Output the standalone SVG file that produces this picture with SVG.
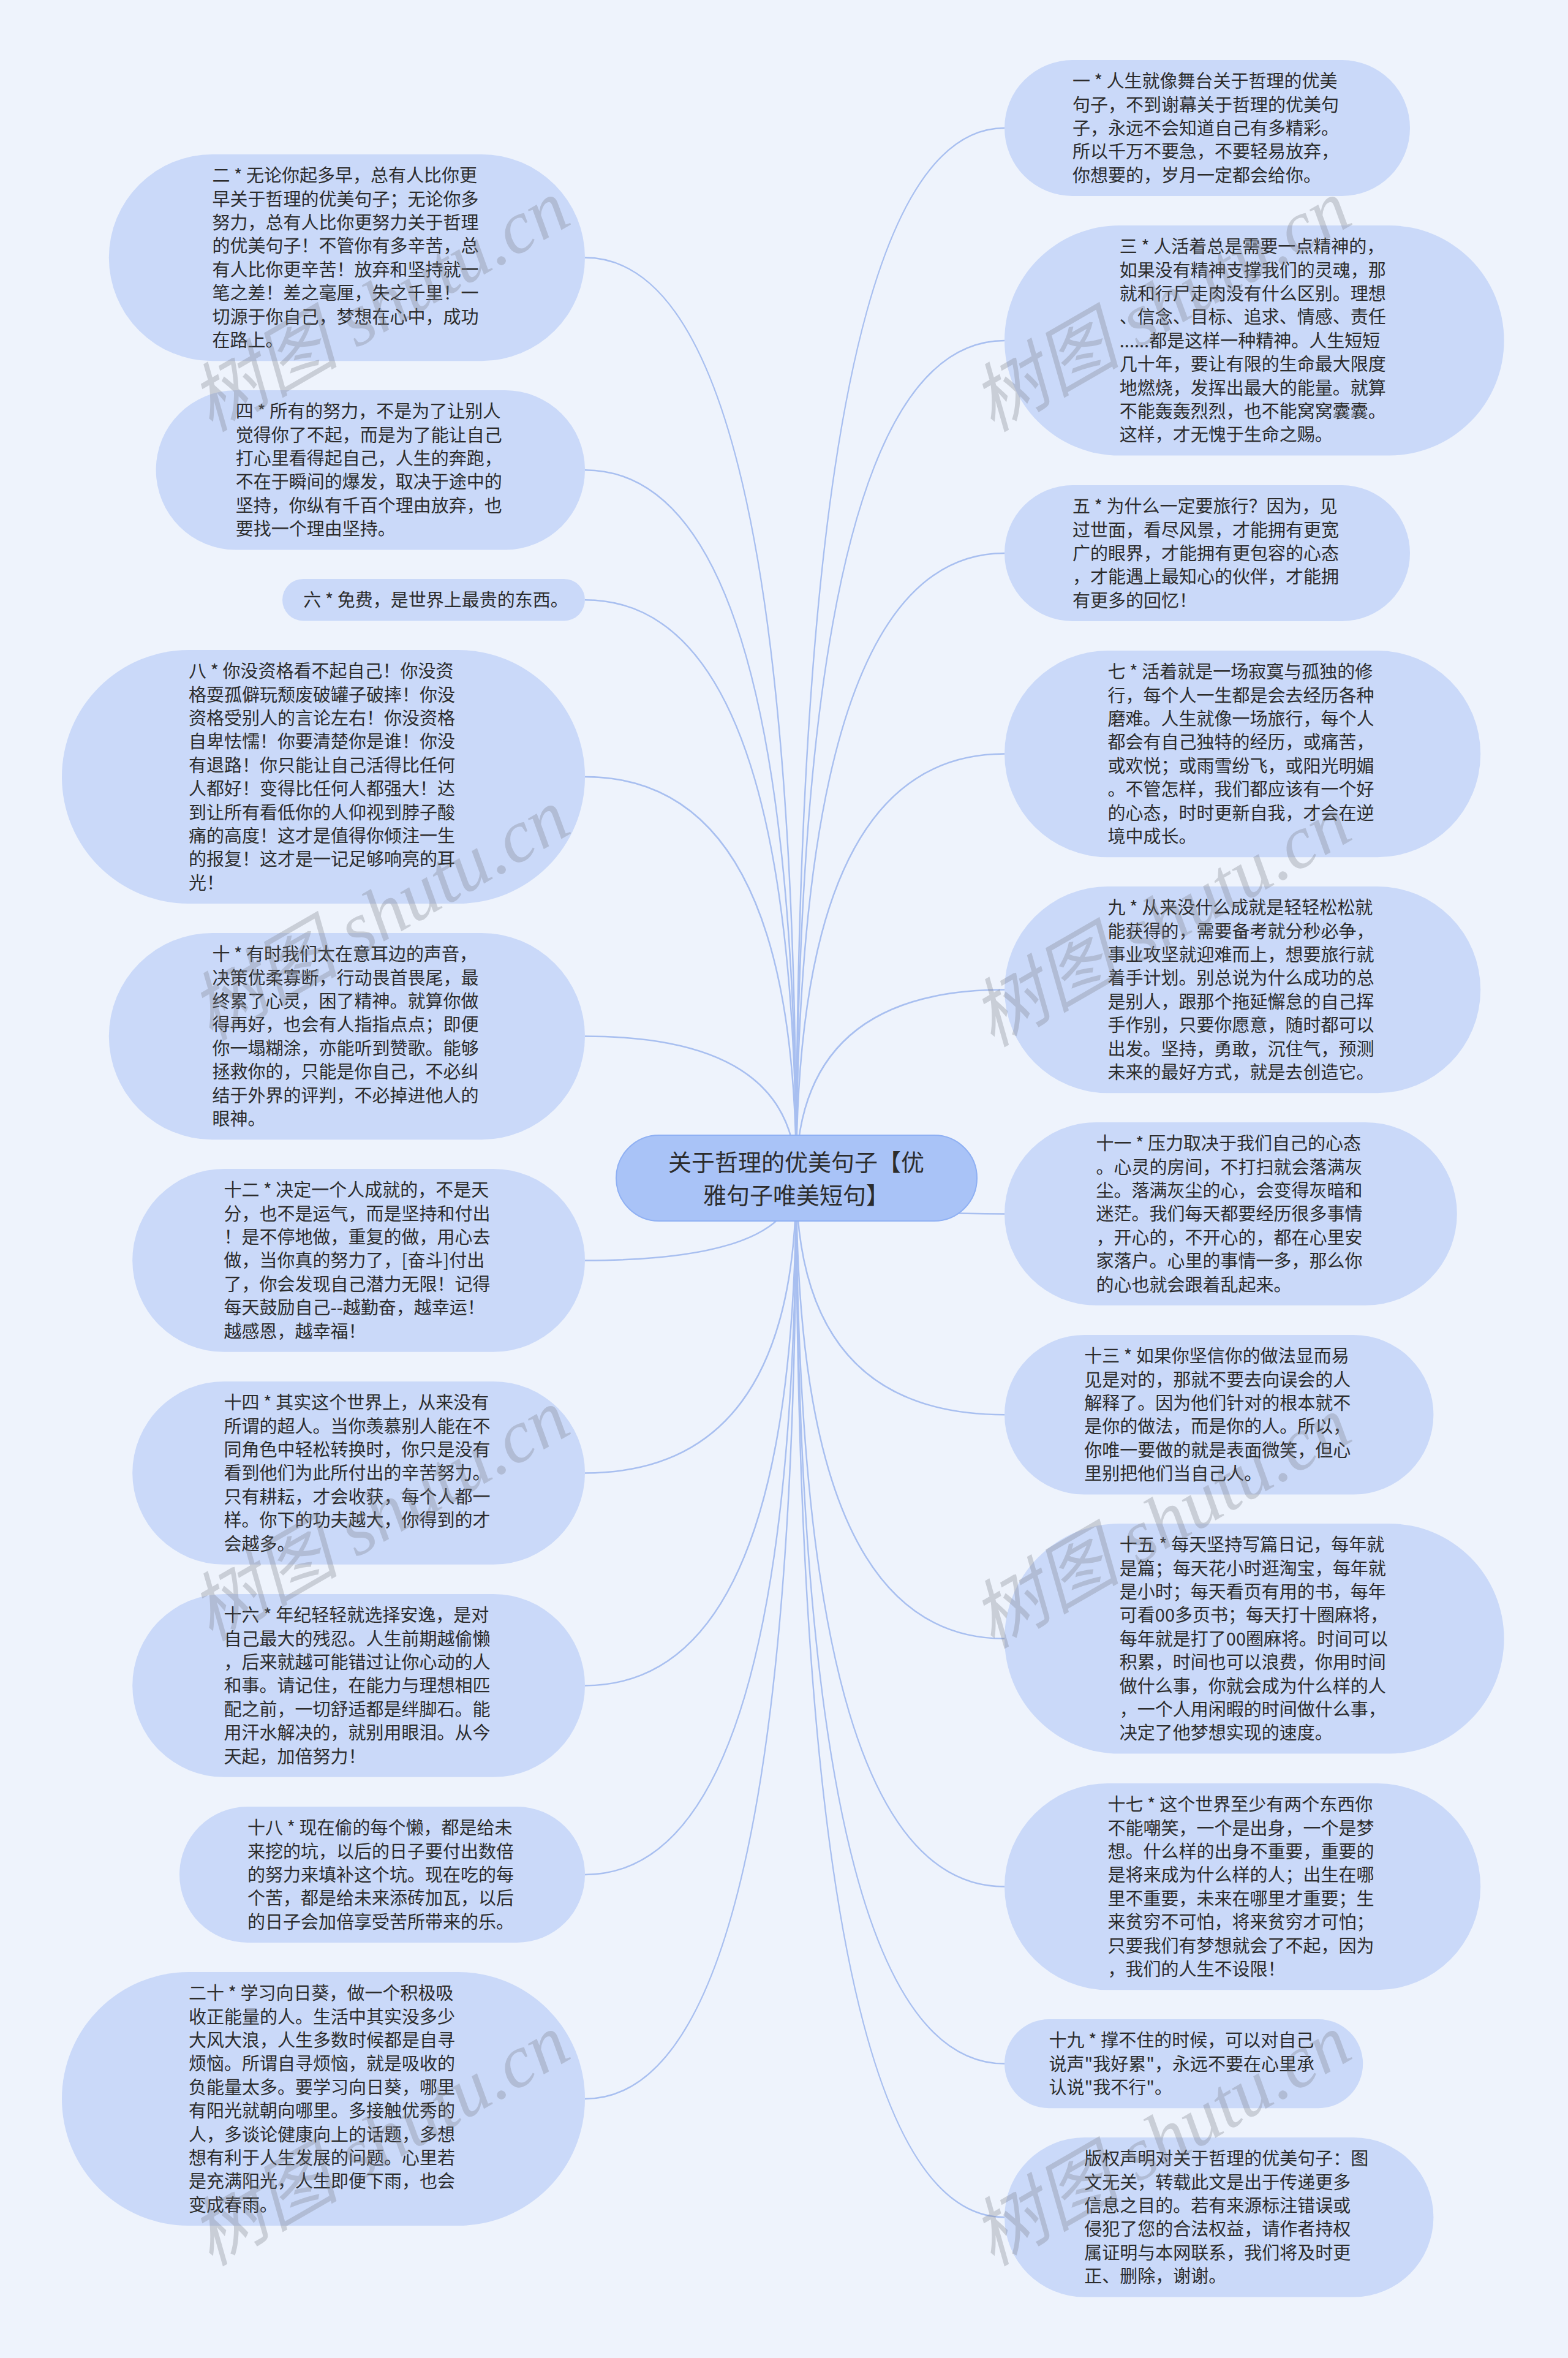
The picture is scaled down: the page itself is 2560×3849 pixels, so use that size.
<svg xmlns="http://www.w3.org/2000/svg" width="2560" height="3849" viewBox="0 0 2560 3849">
<style>
.bg{fill:#eef3fc}
.node{fill:#cad9f9}
.root{fill:#a9c3f7;stroke:#8fb0f3;stroke-width:2}
.t{font-family:"Noto Sans CJK SC","Noto Sans",sans-serif;font-size:29px;fill:#2c2c2c}
.rt{font-family:"Noto Sans CJK SC","Noto Sans",sans-serif;font-size:38px;fill:#2c2c2c;text-anchor:middle}
.link{fill:none;stroke:#a8bff0;stroke-width:2.5}
.wm{font-family:"Liberation Serif","Noto Sans CJK SC",serif;font-style:italic;font-size:122px;fill:#7d8088;fill-opacity:0.32}
</style>
<rect class="bg" x="0" y="0" width="2560" height="3849"/>
<g id="connectors">
<path class="link" d="M1300 1923 Q1300 209 1640 209"/>
<path class="link" d="M1300 1923 Q1300 556 1640 556"/>
<path class="link" d="M1300 1923 Q1300 903 1640 903"/>
<path class="link" d="M1300 1923 Q1300 1230.6 1640 1230.6"/>
<path class="link" d="M1300 1923 Q1300 1615.6 1640 1615.6"/>
<path class="link" d="M1300 1923 Q1300 1981.4 1640 1981.4"/>
<path class="link" d="M1300 1923 Q1300 2309.2 1640 2309.2"/>
<path class="link" d="M1300 1923 Q1300 2674.8 1640 2674.8"/>
<path class="link" d="M1300 1923 Q1300 3079.6 1640 3079.6"/>
<path class="link" d="M1300 1923 Q1300 3368.6 1640 3368.6"/>
<path class="link" d="M1300 1923 Q1300 3619.2 1640 3619.2"/>
<path class="link" d="M1300 1923 Q1300 420.6 955 420.6"/>
<path class="link" d="M1300 1923 Q1300 767.2 955 767.2"/>
<path class="link" d="M1300 1923 Q1300 979.2 955 979.2"/>
<path class="link" d="M1300 1923 Q1300 1268 955 1268"/>
<path class="link" d="M1300 1923 Q1300 1691.6 955 1691.6"/>
<path class="link" d="M1300 1923 Q1300 2057.4 955 2057.4"/>
<path class="link" d="M1300 1923 Q1300 2404.4 955 2404.4"/>
<path class="link" d="M1300 1923 Q1300 2751.4 955 2751.4"/>
<path class="link" d="M1300 1923 Q1300 3060 955 3060"/>
<path class="link" d="M1300 1923 Q1300 3426 955 3426"/>
</g>
<g id="root">
<rect class="root" x="1006" y="1853" width="589" height="140" rx="70"/>
<text class="rt"><tspan x="1300" y="1911">关于哲理的优美句子【优</tspan><tspan x="1300" y="1965">雅句子唯美短句】</tspan></text>
</g>
<g id="n1">
<rect class="node" x="1640" y="98" width="662" height="222" rx="111"/>
<text class="t"><tspan x="1751" y="143.2">一 * 人生就像舞台关于哲理的优美</tspan><tspan x="1751" y="181.6">句子，不到谢幕关于哲理的优美句</tspan><tspan x="1751" y="220">子，永远不会知道自己有多精彩。</tspan><tspan x="1751" y="258.4">所以千万不要急，不要轻易放弃，</tspan><tspan x="1751" y="296.8">你想要的，岁月一定都会给你。</tspan></text>
</g>
<g id="n3">
<rect class="node" x="1640" y="368" width="815.6" height="375.6" rx="187.8"/>
<text class="t"><tspan x="1827.8" y="413.2">三 * 人活着总是需要一点精神的，</tspan><tspan x="1827.8" y="451.6">如果没有精神支撑我们的灵魂，那</tspan><tspan x="1827.8" y="490">就和行尸走肉没有什么区别。理想</tspan><tspan x="1827.8" y="528.4">、信念、目标、追求、情感、责任</tspan><tspan x="1827.8" y="566.8">......都是这样一种精神。人生短短</tspan><tspan x="1827.8" y="605.2">几十年，要让有限的生命最大限度</tspan><tspan x="1827.8" y="643.6">地燃烧，发挥出最大的能量。就算</tspan><tspan x="1827.8" y="682">不能轰轰烈烈，也不能窝窝囊囊。</tspan><tspan x="1827.8" y="720.4">这样，才无愧于生命之赐。</tspan></text>
</g>
<g id="n5">
<rect class="node" x="1640" y="792" width="662" height="222" rx="111"/>
<text class="t"><tspan x="1751" y="837.2">五 * 为什么一定要旅行？因为，见</tspan><tspan x="1751" y="875.6">过世面，看尽风景，才能拥有更宽</tspan><tspan x="1751" y="914">广的眼界，才能拥有更包容的心态</tspan><tspan x="1751" y="952.4">，才能遇上最知心的伙伴，才能拥</tspan><tspan x="1751" y="990.8">有更多的回忆！</tspan></text>
</g>
<g id="n7">
<rect class="node" x="1640" y="1062" width="777.2" height="337.2" rx="168.6"/>
<text class="t"><tspan x="1808.6" y="1107.2">七 * 活着就是一场寂寞与孤独的修</tspan><tspan x="1808.6" y="1145.6">行，每个人一生都是会去经历各种</tspan><tspan x="1808.6" y="1184">磨难。人生就像一场旅行，每个人</tspan><tspan x="1808.6" y="1222.4">都会有自己独特的经历，或痛苦，</tspan><tspan x="1808.6" y="1260.8">或欢悦；或雨雪纷飞，或阳光明媚</tspan><tspan x="1808.6" y="1299.2">。不管怎样，我们都应该有一个好</tspan><tspan x="1808.6" y="1337.6">的心态，时时更新自我，才会在逆</tspan><tspan x="1808.6" y="1376">境中成长。</tspan></text>
</g>
<g id="n9">
<rect class="node" x="1640" y="1447" width="777.2" height="337.2" rx="168.6"/>
<text class="t"><tspan x="1808.6" y="1492.2">九 * 从来没什么成就是轻轻松松就</tspan><tspan x="1808.6" y="1530.6">能获得的，需要备考就分秒必争，</tspan><tspan x="1808.6" y="1569">事业攻坚就迎难而上，想要旅行就</tspan><tspan x="1808.6" y="1607.4">着手计划。别总说为什么成功的总</tspan><tspan x="1808.6" y="1645.8">是别人，跟那个拖延懈怠的自己挥</tspan><tspan x="1808.6" y="1684.2">手作别，只要你愿意，随时都可以</tspan><tspan x="1808.6" y="1722.6">出发。坚持，勇敢，沉住气，预测</tspan><tspan x="1808.6" y="1761">未来的最好方式，就是去创造它。</tspan></text>
</g>
<g id="n11">
<rect class="node" x="1640" y="1832" width="738.8" height="298.8" rx="149.4"/>
<text class="t"><tspan x="1789.4" y="1877.2">十一 * 压力取决于我们自己的心态</tspan><tspan x="1789.4" y="1915.6">。心灵的房间，不打扫就会落满灰</tspan><tspan x="1789.4" y="1954">尘。落满灰尘的心，会变得灰暗和</tspan><tspan x="1789.4" y="1992.4">迷茫。我们每天都要经历很多事情</tspan><tspan x="1789.4" y="2030.8">，开心的，不开心的，都在心里安</tspan><tspan x="1789.4" y="2069.2">家落户。心里的事情一多，那么你</tspan><tspan x="1789.4" y="2107.6">的心也就会跟着乱起来。</tspan></text>
</g>
<g id="n13">
<rect class="node" x="1640" y="2179" width="700.4" height="260.4" rx="130.2"/>
<text class="t"><tspan x="1770.2" y="2224.2">十三 * 如果你坚信你的做法显而易</tspan><tspan x="1770.2" y="2262.6">见是对的，那就不要去向误会的人</tspan><tspan x="1770.2" y="2301">解释了。因为他们针对的根本就不</tspan><tspan x="1770.2" y="2339.4">是你的做法，而是你的人。所以，</tspan><tspan x="1770.2" y="2377.8">你唯一要做的就是表面微笑，但心</tspan><tspan x="1770.2" y="2416.2">里别把他们当自己人。</tspan></text>
</g>
<g id="n15">
<rect class="node" x="1640" y="2487" width="815.6" height="375.6" rx="187.8"/>
<text class="t"><tspan x="1827.8" y="2532.2">十五 * 每天坚持写篇日记，每年就</tspan><tspan x="1827.8" y="2570.6">是篇；每天花小时逛淘宝，每年就</tspan><tspan x="1827.8" y="2609">是小时；每天看页有用的书，每年</tspan><tspan x="1827.8" y="2647.4">可看00多页书；每天打十圈麻将，</tspan><tspan x="1827.8" y="2685.8">每年就是打了00圈麻将。时间可以</tspan><tspan x="1827.8" y="2724.2">积累，时间也可以浪费，你用时间</tspan><tspan x="1827.8" y="2762.6">做什么事，你就会成为什么样的人</tspan><tspan x="1827.8" y="2801">，一个人用闲暇的时间做什么事，</tspan><tspan x="1827.8" y="2839.4">决定了他梦想实现的速度。</tspan></text>
</g>
<g id="n17">
<rect class="node" x="1640" y="2911" width="777.2" height="337.2" rx="168.6"/>
<text class="t"><tspan x="1808.6" y="2956.2">十七 * 这个世界至少有两个东西你</tspan><tspan x="1808.6" y="2994.6">不能嘲笑，一个是出身，一个是梦</tspan><tspan x="1808.6" y="3033">想。什么样的出身不重要，重要的</tspan><tspan x="1808.6" y="3071.4">是将来成为什么样的人；出生在哪</tspan><tspan x="1808.6" y="3109.8">里不重要，未来在哪里才重要；生</tspan><tspan x="1808.6" y="3148.2">来贫穷不可怕，将来贫穷才可怕；</tspan><tspan x="1808.6" y="3186.6">只要我们有梦想就会了不起，因为</tspan><tspan x="1808.6" y="3225">，我们的人生不设限！</tspan></text>
</g>
<g id="n19">
<rect class="node" x="1640" y="3296" width="585.2" height="145.2" rx="72.6"/>
<text class="t"><tspan x="1712.6" y="3341.2">十九 * 撑不住的时候，可以对自己</tspan><tspan x="1712.6" y="3379.6">说声"我好累"，永远不要在心里承</tspan><tspan x="1712.6" y="3418">认说"我不行"。</tspan></text>
</g>
<g id="n21">
<rect class="node" x="1640" y="3489" width="700.4" height="260.4" rx="130.2"/>
<text class="t"><tspan x="1770.2" y="3534.2">版权声明对关于哲理的优美句子：图</tspan><tspan x="1770.2" y="3572.6">文无关，转载此文是出于传递更多</tspan><tspan x="1770.2" y="3611">信息之目的。若有来源标注错误或</tspan><tspan x="1770.2" y="3649.4">侵犯了您的合法权益，请作者持权</tspan><tspan x="1770.2" y="3687.8">属证明与本网联系，我们将及时更</tspan><tspan x="1770.2" y="3726.2">正、删除，谢谢。</tspan></text>
</g>
<g id="n2">
<rect class="node" x="177.8" y="252" width="777.2" height="337.2" rx="168.6"/>
<text class="t"><tspan x="346.4" y="297.2">二 * 无论你起多早，总有人比你更</tspan><tspan x="346.4" y="335.6">早关于哲理的优美句子；无论你多</tspan><tspan x="346.4" y="374">努力，总有人比你更努力关于哲理</tspan><tspan x="346.4" y="412.4">的优美句子！不管你有多辛苦，总</tspan><tspan x="346.4" y="450.8">有人比你更辛苦！放弃和坚持就一</tspan><tspan x="346.4" y="489.2">笔之差！差之毫厘，失之千里！一</tspan><tspan x="346.4" y="527.6">切源于你自己，梦想在心中，成功</tspan><tspan x="346.4" y="566">在路上。</tspan></text>
</g>
<g id="n4">
<rect class="node" x="254.6" y="637" width="700.4" height="260.4" rx="130.2"/>
<text class="t"><tspan x="384.8" y="682.2">四 * 所有的努力，不是为了让别人</tspan><tspan x="384.8" y="720.6">觉得你了不起，而是为了能让自己</tspan><tspan x="384.8" y="759">打心里看得起自己，人生的奔跑，</tspan><tspan x="384.8" y="797.4">不在于瞬间的爆发，取决于途中的</tspan><tspan x="384.8" y="835.8">坚持，你纵有千百个理由放弃，也</tspan><tspan x="384.8" y="874.2">要找一个理由坚持。</tspan></text>
</g>
<g id="n6">
<rect class="node" x="461" y="945" width="494" height="68.4" rx="34.2"/>
<text class="t"><tspan x="495.2" y="990.2">六 * 免费，是世界上最贵的东西。</tspan></text>
</g>
<g id="n8">
<rect class="node" x="101" y="1061" width="854" height="414" rx="207"/>
<text class="t"><tspan x="308" y="1106.2">八 * 你没资格看不起自己！你没资</tspan><tspan x="308" y="1144.6">格耍孤僻玩颓废破罐子破摔！你没</tspan><tspan x="308" y="1183">资格受别人的言论左右！你没资格</tspan><tspan x="308" y="1221.4">自卑怯懦！你要清楚你是谁！你没</tspan><tspan x="308" y="1259.8">有退路！你只能让自己活得比任何</tspan><tspan x="308" y="1298.2">人都好！变得比任何人都强大！达</tspan><tspan x="308" y="1336.6">到让所有看低你的人仰视到脖子酸</tspan><tspan x="308" y="1375">痛的高度！这才是值得你倾注一生</tspan><tspan x="308" y="1413.4">的报复！这才是一记足够响亮的耳</tspan><tspan x="308" y="1451.8">光！</tspan></text>
</g>
<g id="n10">
<rect class="node" x="177.8" y="1523" width="777.2" height="337.2" rx="168.6"/>
<text class="t"><tspan x="346.4" y="1568.2">十 * 有时我们太在意耳边的声音，</tspan><tspan x="346.4" y="1606.6">决策优柔寡断，行动畏首畏尾，最</tspan><tspan x="346.4" y="1645">终累了心灵，困了精神。就算你做</tspan><tspan x="346.4" y="1683.4">得再好，也会有人指指点点；即便</tspan><tspan x="346.4" y="1721.8">你一塌糊涂，亦能听到赞歌。能够</tspan><tspan x="346.4" y="1760.2">拯救你的，只能是你自己，不必纠</tspan><tspan x="346.4" y="1798.6">结于外界的评判，不必掉进他人的</tspan><tspan x="346.4" y="1837">眼神。</tspan></text>
</g>
<g id="n12">
<rect class="node" x="216.2" y="1908" width="738.8" height="298.8" rx="149.4"/>
<text class="t"><tspan x="365.6" y="1953.2">十二 * 决定一个人成就的，不是天</tspan><tspan x="365.6" y="1991.6">分，也不是运气，而是坚持和付出</tspan><tspan x="365.6" y="2030">！是不停地做，重复的做，用心去</tspan><tspan x="365.6" y="2068.4">做，当你真的努力了，[奋斗]付出</tspan><tspan x="365.6" y="2106.8">了，你会发现自己潜力无限！记得</tspan><tspan x="365.6" y="2145.2">每天鼓励自己--越勤奋，越幸运！</tspan><tspan x="365.6" y="2183.6">越感恩，越幸福！</tspan></text>
</g>
<g id="n14">
<rect class="node" x="216.2" y="2255" width="738.8" height="298.8" rx="149.4"/>
<text class="t"><tspan x="365.6" y="2300.2">十四 * 其实这个世界上，从来没有</tspan><tspan x="365.6" y="2338.6">所谓的超人。当你羡慕别人能在不</tspan><tspan x="365.6" y="2377">同角色中轻松转换时，你只是没有</tspan><tspan x="365.6" y="2415.4">看到他们为此所付出的辛苦努力。</tspan><tspan x="365.6" y="2453.8">只有耕耘，才会收获，每个人都一</tspan><tspan x="365.6" y="2492.2">样。你下的功夫越大，你得到的才</tspan><tspan x="365.6" y="2530.6">会越多。</tspan></text>
</g>
<g id="n16">
<rect class="node" x="216.2" y="2602" width="738.8" height="298.8" rx="149.4"/>
<text class="t"><tspan x="365.6" y="2647.2">十六 * 年纪轻轻就选择安逸，是对</tspan><tspan x="365.6" y="2685.6">自己最大的残忍。人生前期越偷懒</tspan><tspan x="365.6" y="2724">，后来就越可能错过让你心动的人</tspan><tspan x="365.6" y="2762.4">和事。请记住，在能力与理想相匹</tspan><tspan x="365.6" y="2800.8">配之前，一切舒适都是绊脚石。能</tspan><tspan x="365.6" y="2839.2">用汗水解决的，就别用眼泪。从今</tspan><tspan x="365.6" y="2877.6">天起，加倍努力！</tspan></text>
</g>
<g id="n18">
<rect class="node" x="293" y="2949" width="662" height="222" rx="111"/>
<text class="t"><tspan x="404" y="2994.2">十八 * 现在偷的每个懒，都是给未</tspan><tspan x="404" y="3032.6">来挖的坑，以后的日子要付出数倍</tspan><tspan x="404" y="3071">的努力来填补这个坑。现在吃的每</tspan><tspan x="404" y="3109.4">个苦，都是给未来添砖加瓦，以后</tspan><tspan x="404" y="3147.8">的日子会加倍享受苦所带来的乐。</tspan></text>
</g>
<g id="n20">
<rect class="node" x="101" y="3219" width="854" height="414" rx="207"/>
<text class="t"><tspan x="308" y="3264.2">二十 * 学习向日葵，做一个积极吸</tspan><tspan x="308" y="3302.6">收正能量的人。生活中其实没多少</tspan><tspan x="308" y="3341">大风大浪，人生多数时候都是自寻</tspan><tspan x="308" y="3379.4">烦恼。所谓自寻烦恼，就是吸收的</tspan><tspan x="308" y="3417.8">负能量太多。要学习向日葵，哪里</tspan><tspan x="308" y="3456.2">有阳光就朝向哪里。多接触优秀的</tspan><tspan x="308" y="3494.6">人，多谈论健康向上的话题，多想</tspan><tspan x="308" y="3533">想有利于人生发展的问题。心里若</tspan><tspan x="308" y="3571.4">是充满阳光，人生即便下雨，也会</tspan><tspan x="308" y="3609.8">变成春雨。</tspan></text>
</g>
<g id="watermark">
<text class="wm" x="344" y="706" transform="rotate(-30 344 706)">树图 shutu.cn</text>
<text class="wm" x="1620" y="706" transform="rotate(-30 1620 706)">树图 shutu.cn</text>
<text class="wm" x="344" y="1700" transform="rotate(-30 344 1700)">树图 shutu.cn</text>
<text class="wm" x="1620" y="1710" transform="rotate(-30 1620 1710)">树图 shutu.cn</text>
<text class="wm" x="344" y="2680" transform="rotate(-30 344 2680)">树图 shutu.cn</text>
<text class="wm" x="1620" y="2692" transform="rotate(-30 1620 2692)">树图 shutu.cn</text>
<text class="wm" x="344" y="3700" transform="rotate(-30 344 3700)">树图 shutu.cn</text>
<text class="wm" x="1620" y="3700" transform="rotate(-30 1620 3700)">树图 shutu.cn</text>
</g>
</svg>
